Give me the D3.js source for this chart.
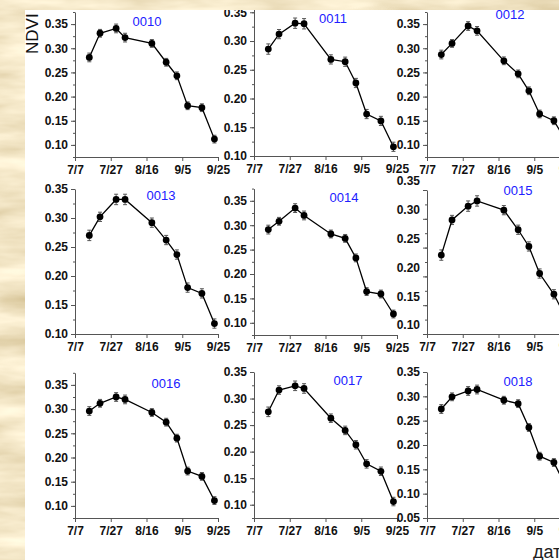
<!DOCTYPE html>
<html>
<head>
<meta charset="utf-8">
<script src="https://cdn.jsdelivr.net/npm/d3@7"></script>
<style>
  body { margin: 0; padding: 0; overflow: hidden; }
  svg { display: block; }
  .axis text { font-family: "Liberation Sans", Arial, sans-serif; font-size: 12px; font-weight: bold; fill: #111; }
  .axis path, .axis line { stroke: #555; }
</style>
</head>
<body>
<div id="chart"></div>
<script>
    // acquisition dates (shared by every plot)
    var dates = ["7/15", "7/21", "7/30", "8/4", "8/19", "8/27", "9/2", "9/8", "9/16", "9/23"];
    var xTicks = ["7/7", "7/27", "8/16", "9/5", "9/25"];
    var plotNames = ["0010", "0011", "0012", "0013", "0014", "0015", "0016", "0017", "0018"];

    // NDVI per plot
    var ndvi0010 = [0.281, 0.331, 0.341, 0.322, 0.310, 0.271, 0.243, 0.181, 0.177, 0.112];
    var ndvi0011 = [0.286, 0.312, 0.331, 0.330, 0.268, 0.264, 0.227, 0.173, 0.161, 0.116];
    var ndvi0012 = [0.287, 0.310, 0.346, 0.336, 0.274, 0.247, 0.212, 0.164, 0.150, 0.107];
    var ndvi0013 = [0.270, 0.302, 0.332, 0.332, 0.292, 0.262, 0.237, 0.180, 0.170, 0.118];
    var ndvi0014 = [0.291, 0.308, 0.335, 0.320, 0.282, 0.273, 0.233, 0.164, 0.159, 0.118];
    var ndvi0015 = [0.237, 0.298, 0.322, 0.331, 0.315, 0.281, 0.252, 0.205, 0.169, 0.126];
    var ndvi0016 = [0.296, 0.312, 0.325, 0.320, 0.293, 0.273, 0.240, 0.172, 0.161, 0.111];
    var ndvi0017 = [0.275, 0.316, 0.324, 0.319, 0.263, 0.240, 0.213, 0.177, 0.163, 0.106];
    var ndvi0018 = [0.274, 0.299, 0.311, 0.314, 0.292, 0.285, 0.236, 0.177, 0.164, 0.112];

    // standard error of each mean
    var stdErr = [0.009, 0.008, 0.009, 0.009, 0.008, 0.008, 0.008, 0.008, 0.008, 0.008];

    var series = [ndvi0010, ndvi0011, ndvi0012, ndvi0013, ndvi0014, ndvi0015, ndvi0016, ndvi0017, ndvi0018];

    // panel placement: left x, bottom/top pixel of y axis, y domain, title position
    var layout = [
      {x: 75,  bottom: 157, top: 12,    lo: 0.075, hi: 0.375, tx: 147, ty: 26,  labelDy: 0},
      {x: 254, bottom: 156, top: 9.4,   lo: 0.10,  hi: 0.355, tx: 333, ty: 23,  labelDy: 0},
      {x: 427, bottom: 157, top: 12,    lo: 0.075, hi: 0.375, tx: 510, ty: 19,  labelDy: 0},
      {x: 75,  bottom: 334, top: 189,   lo: 0.10,  hi: 0.35,  tx: 161, ty: 200, labelDy: 0},
      {x: 254, bottom: 335, top: 188.6, lo: 0.075, hi: 0.375, tx: 344, ty: 202, labelDy: 0},
      {x: 427, bottom: 334, top: 190,   lo: 0.10,  hi: 0.35,  tx: 518, ty: 195, labelDy: -9},
      {x: 75,  bottom: 518, top: 372.8, lo: 0.075, hi: 0.375, tx: 166, ty: 388, labelDy: 0},
      {x: 254, bottom: 518, top: 372,   lo: 0.075, hi: 0.35,  tx: 348, ty: 385, labelDy: 0},
      {x: 427, bottom: 518, top: 372,   lo: 0.05,  hi: 0.35,  tx: 518, ty: 386, labelDy: 0}
    ];

    var width = 559;
    var height = 560;
    var plotWidth = 143;

    var parseDate = d3.timeParse("%m/%d");
    var fmtDate = d3.timeFormat("%-m/%-d");

    var svg = d3.select("#chart").append("svg")
        .attr("width", width)
        .attr("height", height);

    var defs = svg.append("defs");

    // parchment texture
    var filter = defs.append("filter")
        .attr("id", "parchment")
        .attr("x", 0).attr("y", 0).attr("width", "100%").attr("height", "100%");
    filter.append("feTurbulence")
        .attr("type", "fractalNoise")
        .attr("baseFrequency", "0.01 0.045")
        .attr("numOctaves", 4)
        .attr("seed", 7);
    filter.append("feColorMatrix")
        .attr("type", "matrix")
        .attr("values", "0.55 0 0 0 0.62  0.6 0 0 0 0.49  0.65 0 0 0 0.24  0 0 0 0 1");

    svg.append("rect")
        .attr("width", width)
        .attr("height", height)
        .attr("fill", "#e3ca94");
    svg.append("rect")
        .attr("width", width)
        .attr("height", height)
        .attr("filter", "url(#parchment)");

    defs.append("clipPath").attr("id", "page")
      .append("rect")
        .attr("x", 25).attr("y", 10)
        .attr("width", width - 25).attr("height", height - 10);

    var page = svg.append("g").attr("clip-path", "url(#page)");

    page.append("rect")
        .attr("x", 25).attr("y", 10)
        .attr("width", width - 25).attr("height", height - 10)
        .attr("fill", "#ffffff");

    plotNames.forEach(function(name, i) {
      var p = layout[i];
      var values = series[i];

      var x = d3.scaleTime()
          .domain([parseDate(xTicks[0]), parseDate(xTicks[xTicks.length - 1])])
          .range([p.x, p.x + plotWidth]);

      var y = d3.scaleLinear()
          .domain([p.lo, p.hi])
          .range([p.bottom, p.top]);

      var major = d3.range(Math.ceil(p.lo / 0.05 - 1e-6), Math.floor(p.hi / 0.05 + 1e-6) + 1)
          .map(function(k) { return k * 0.05; });
      var minor = d3.range(Math.ceil(p.lo / 0.025 - 1e-6), Math.floor(p.hi / 0.025 + 1e-6) + 1)
          .map(function(k) { return k * 0.025; });

      var g = page.append("g");

      // minor ticks
      g.append("g")
          .attr("class", "axis")
          .attr("transform", "translate(" + p.x + ",0)")
          .call(d3.axisLeft(y).tickValues(minor).tickSize(2).tickSizeOuter(0).tickFormat(""))
          .select(".domain").remove();

      var yAx = g.append("g")
          .attr("class", "axis")
          .attr("transform", "translate(" + p.x + ",0)")
          .call(d3.axisLeft(y).tickValues(major).tickSize(4).tickSizeOuter(0)
                .tickPadding(3).tickFormat(d3.format(".2f")));
      yAx.selectAll("text").attr("dy", (0.32 * 12 + p.labelDy) + "px");

      g.append("g")
          .attr("class", "axis")
          .attr("transform", "translate(0," + p.bottom + ")")
          .call(d3.axisBottom(x).tickValues(xTicks.map(parseDate)).tickSize(4).tickSizeOuter(0)
                .tickPadding(4).tickFormat(fmtDate));

      var pts = dates.map(function(d, k) { return {date: parseDate(d), v: values[k], e: stdErr[k]}; });

      // error bars
      var eb = g.append("g").selectAll("g")
          .data(pts)
          .enter().append("g")
          .attr("stroke", "#555")
          .attr("stroke-width", 1);
      eb.append("line")
          .attr("x1", function(d) { return x(d.date); })
          .attr("x2", function(d) { return x(d.date); })
          .attr("y1", function(d) { return y(d.v - d.e); })
          .attr("y2", function(d) { return y(d.v + d.e); });
      eb.append("line")
          .attr("x1", function(d) { return x(d.date) - 2; })
          .attr("x2", function(d) { return x(d.date) + 2; })
          .attr("y1", function(d) { return y(d.v - d.e); })
          .attr("y2", function(d) { return y(d.v - d.e); });
      eb.append("line")
          .attr("x1", function(d) { return x(d.date) - 2; })
          .attr("x2", function(d) { return x(d.date) + 2; })
          .attr("y1", function(d) { return y(d.v + d.e); })
          .attr("y2", function(d) { return y(d.v + d.e); });

      g.append("path")
          .datum(pts)
          .attr("fill", "none")
          .attr("stroke", "#000")
          .attr("stroke-width", 1.3)
          .attr("d", d3.line()
              .x(function(d) { return x(d.date); })
              .y(function(d) { return y(d.v); }));

      g.append("g").selectAll("circle")
          .data(pts)
          .enter().append("circle")
          .attr("cx", function(d) { return x(d.date); })
          .attr("cy", function(d) { return y(d.v); })
          .attr("r", 3.4)
          .attr("fill", "#000");

      g.append("text")
          .attr("x", p.tx)
          .attr("y", p.ty)
          .attr("text-anchor", "middle")
          .attr("font-family", "Liberation Sans, Arial, sans-serif")
          .attr("font-size", 13)
          .attr("fill", "#2020ff")
          .text(name);
    });

    page.append("text")
        .attr("transform", "translate(38,54) rotate(-90)")
        .attr("font-family", "Liberation Sans, Arial, sans-serif")
        .attr("font-size", 17)
        .attr("fill", "#111")
        .text("NDVI");

    page.append("text")
        .attr("x", 533)
        .attr("y", 558)
        .attr("font-family", "Liberation Sans, Arial, sans-serif")
        .attr("font-size", 18)
        .attr("fill", "#222")
        .text("дата");
</script>
</body>
</html>
